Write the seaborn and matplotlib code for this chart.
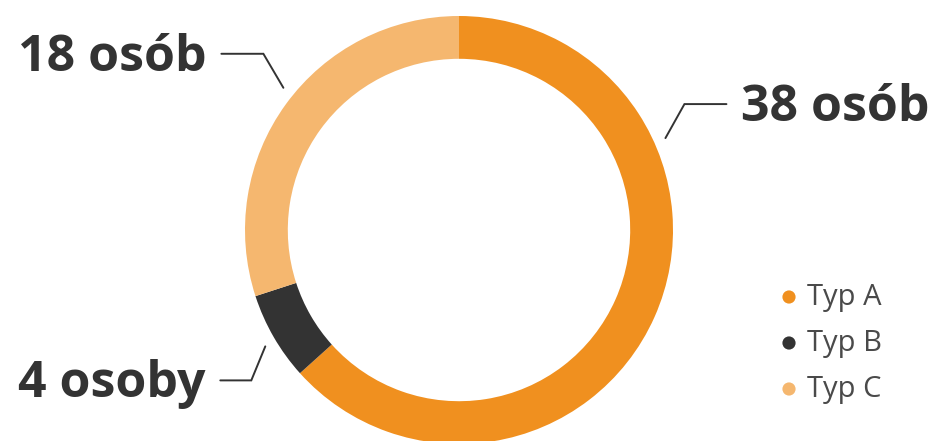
import numpy as np
import matplotlib.pyplot as plt
import seaborn as sns

# data
categories = ['Typ A', 'Typ B', 'Typ C']
counts = [38, 4, 18]
labels = ['38 osób', '4 osoby', '18 osób']
colors = ['#F0901F', '#333333', '#F5B76F']
# angle (deg) where each leader line touches the ring
label_angles = [24, 211, 141]
# leader line shape: diagonal dx, horizontal length
diag_dx = [19, 14, 20]
horiz_len = [42, 31, 42]

sns.set_theme(style='white')
plt.rcParams['font.family'] = ['Open Sans', 'DejaVu Sans']

W, H = 937, 441
fig = plt.figure(figsize=(W / 100, H / 100), dpi=100)
ax = fig.add_axes([0, 0, 1, 1])

cx, cy, R = 459, 211, 214
ax.pie(counts, colors=colors, startangle=90, counterclock=False,
       center=(cx, cy), radius=R, frame=True,
       wedgeprops=dict(width=R * 0.2, linewidth=0))
ax.set_xlim(0, W)
ax.set_ylim(0, H)
ax.set_aspect('equal')
ax.axis('off')

# leader lines + labels
for lab, ang, ddx, hl in zip(labels, label_angles, diag_dx, horiz_len):
    a = np.deg2rad(ang)
    x0 = cx + 1.056 * R * np.cos(a)
    y0 = cy + 1.056 * R * np.sin(a)
    sx = 1 if np.cos(a) > 0 else -1
    sy = 1 if np.sin(a) > 0 else -1
    x1, y1 = x0 + sx * ddx, y0 + sy * 34
    x2 = x1 + sx * hl
    ax.plot([x0, x1, x2], [y0, y1, y1], color='#333333', lw=1.4,
            solid_joinstyle='miter')
    ax.text(x2 + sx * 15, y1 - 17, lab, ha='left' if sx > 0 else 'right',
            va='baseline', fontsize=36, fontweight='bold', color='#333333')

# legend
for i, (cat, col) in enumerate(zip(categories, colors)):
    y = 144 - i * 46
    ax.scatter([789], [y], s=90, color=col, edgecolor='none')
    ax.text(807, y, cat, ha='left', va='center', fontsize=21,
            color='#4a4a4a')

fig.savefig('out.png', dpi=100, facecolor='white')
